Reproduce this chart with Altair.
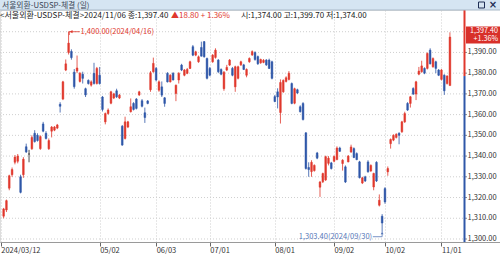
import altair as alt
import pandas as pd

# ---- data (trading-day index: 1 = 2024/03/13 ... 159 = 2024/11/06) ----
opens = [1311, 1314, 1324.5, 1331, 1337, 1337.5, 1330, 1331, 1344.5, 1341,
         1343.5, 1351, 1350, 1343.6, 1355.5, 1351, 1343.5, 1352, 1352.5, 1353.5,
         1365, 1367.5, 1381.5, 1390, 1390.5, 1380.5, 1381, 1376, 1379.5, 1372.5,
         1376.5, 1374.2, 1379.9, 1375, 1379, 1368.5, 1356.5, 1360.5, 1365.5, 1368,
         1371.5, 1368, 1354.4, 1348.5, 1354, 1361.4, 1365.4, 1367.5, 1369.5, 1366.7,
         1360.9, 1366.6, 1372, 1380.7, 1382.3, 1371.8, 1373.4, 1368.1, 1379.9, 1375.8,
         1379.9, 1370.2, 1376.7, 1383.9, 1379, 1379.9, 1382.3, 1392.8, 1388.7, 1385.5,
         1392.4, 1395.2, 1387.1, 1382.3, 1385.5, 1387.6, 1386.3, 1381.8, 1372.5, 1381.5,
         1383.9, 1382.3, 1373.4, 1377.5, 1384, 1384, 1379, 1385.5, 1388.8, 1390,
         1388, 1385, 1385.2, 1386.3, 1386.3, 1385.5, 1368.7, 1371, 1361, 1371,
         1376, 1377, 1375, 1365.5, 1372, 1363.8, 1365.4, 1351.2, 1334.5, 1332.5,
         1333, 1341.5, 1325, 1327.6, 1328.5, 1336.5, 1336.7, 1337.5, 1338.3, 1343.9,
         1336.4, 1334.8, 1337.2, 1342, 1343.6, 1341.2, 1337.2, 1327, 1330, 1337.2,
         1332.8, 1325.1, 1337, 1316.3, 1311, 1324.3, 1332.4, 1346, 1347.7, 1349,
         1351, 1351.7, 1356.5, 1365.4, 1365.4, 1372.6, 1369.9, 1379.5, 1380.7, 1382.3,
         1382.3, 1391.1, 1383.1, 1385.5, 1381.5, 1377, 1379, 1375, 1374]
highs = [1315, 1319, 1331, 1334.5, 1340.5, 1341, 1331, 1339.5, 1346, 1343,
         1350, 1352.5, 1351, 1350, 1356.5, 1352, 1348.5, 1354.5, 1354.5, 1355.5,
         1366, 1376.3, 1386.6, 1400, 1391.5, 1382, 1388.5, 1380.5, 1380.7, 1373,
         1377, 1376.5, 1385, 1383, 1383, 1369, 1361, 1363, 1371.5, 1370.5,
         1372.5, 1370, 1355, 1359, 1357, 1367.8, 1366, 1368, 1371.5, 1367.5,
         1363.4, 1367, 1381, 1387.5, 1383, 1376.5, 1376, 1368.5, 1380.5, 1379.5,
         1380.5, 1374.5, 1380.5, 1384.5, 1382, 1382.5, 1386, 1393.6, 1390.8, 1388.5,
         1395.2, 1395.5, 1387.5, 1383, 1389.2, 1392, 1386.8, 1382.3, 1381, 1384,
         1386.8, 1383, 1383.6, 1383.6, 1386, 1384.5, 1382.3, 1387.6, 1391, 1390.5,
         1388.5, 1387, 1386.8, 1386.8, 1387, 1386, 1369.5, 1372.7, 1377, 1377,
         1378.5, 1381, 1375.5, 1373, 1372.5, 1364.5, 1366, 1351.5, 1337, 1338,
         1336, 1342, 1328, 1332, 1340.2, 1340, 1337.2, 1340.3, 1344.7, 1344.5,
         1338.5, 1335.5, 1340.5, 1345.5, 1344.2, 1341.8, 1337.7, 1330, 1330.5, 1338,
         1336, 1332, 1337.5, 1321.5, 1312, 1325, 1335, 1348.5, 1350.5, 1351,
         1351.5, 1357, 1361.4, 1366, 1369, 1373.2, 1376.3, 1383, 1386, 1382.8,
         1390, 1392, 1387.6, 1386, 1382, 1382, 1379.5, 1379, 1399.7]
lows = [1310, 1313, 1323.5, 1330, 1336, 1336.5, 1322, 1329.5, 1341.5, 1337,
        1343, 1346.5, 1347, 1343, 1351.5, 1348, 1343, 1349, 1352, 1353,
        1361, 1367, 1381, 1389, 1386.5, 1372.5, 1380, 1375.5, 1375, 1368.5,
        1374.5, 1373.5, 1374.5, 1374.5, 1374.5, 1361.5, 1355.3, 1360, 1365, 1367.5,
        1368, 1367.5, 1345, 1348, 1353.5, 1361, 1362, 1362.5, 1369, 1363.5,
        1356, 1365, 1371, 1380.2, 1376, 1371, 1368.5, 1363.8, 1375.5, 1375.5,
        1376.5, 1366.5, 1375, 1381, 1378.5, 1379.5, 1382, 1388.2, 1388.2, 1385,
        1388, 1387.5, 1377, 1378.5, 1385, 1387, 1380, 1379, 1371.5, 1381,
        1383.5, 1378.5, 1371, 1377, 1383.5, 1381.5, 1378, 1385, 1388.3, 1386,
        1384, 1384.5, 1384.8, 1383.5, 1382, 1377, 1366, 1363, 1355.7, 1370.5,
        1375.5, 1376.5, 1365, 1365, 1370, 1361, 1357.2, 1333.5, 1330, 1330,
        1332.5, 1338.5, 1320.3, 1327, 1328, 1335.5, 1333.5, 1337, 1338, 1342,
        1333, 1327, 1337, 1341.5, 1339, 1338, 1329.2, 1326.5, 1327.5, 1332,
        1332.4, 1323.5, 1327.5, 1315.7, 1303.4, 1317, 1330.5, 1343.6, 1347.2, 1348.5,
        1345.7, 1351.2, 1356, 1361.8, 1363.4, 1369.5, 1367, 1379, 1380.2, 1379.5,
        1381.8, 1384.2, 1382.6, 1380, 1378.6, 1376.5, 1369.5, 1374.5, 1374]
closes = [1314.5, 1318.5, 1330.5, 1333.5, 1339.5, 1340, 1322.5, 1338.5, 1342, 1341,
          1349, 1347, 1347.5, 1349.4, 1352, 1348.5, 1347.5, 1354, 1354, 1355,
          1364, 1375.8, 1384.5, 1394.5, 1387.5, 1373.5, 1382.5, 1380, 1377.5, 1369.5,
          1375, 1375.8, 1375, 1382.3, 1375, 1362.5, 1360.5, 1362.2, 1371, 1370,
          1368.6, 1369.4, 1345.3, 1356.5, 1356.5, 1363.8, 1362.5, 1363, 1371, 1364,
          1358.6, 1365.4, 1380.2, 1384.7, 1376.7, 1375.8, 1369.4, 1365.4, 1375.8, 1379,
          1376.7, 1374.2, 1379.9, 1381.5, 1381.5, 1381.8, 1385.5, 1388.7, 1390.3, 1387.9,
          1388.2, 1387.9, 1377.5, 1379, 1388.7, 1391.1, 1380.7, 1379.5, 1380.5, 1382.8,
          1386.3, 1379, 1383.1, 1383.1, 1385.5, 1381.8, 1381.8, 1387.1, 1390.4, 1386.6,
          1384.5, 1386.6, 1386.2, 1384, 1382.3, 1377.5, 1366.3, 1368.5, 1375.5, 1376.5,
          1377.8, 1380, 1365.4, 1372.5, 1370.4, 1361.4, 1357.6, 1334, 1333.5, 1337,
          1335.5, 1339, 1327.5, 1331.6, 1339.7, 1339, 1334, 1339.8, 1343.9, 1342.3,
          1338, 1327.5, 1340, 1344.4, 1339.3, 1338.3, 1329.6, 1329.5, 1328, 1332.4,
          1335.5, 1331.6, 1328, 1318.7, 1307.7, 1317.9, 1334, 1348, 1350, 1350.5,
          1350, 1356.5, 1360.5, 1362.2, 1368.6, 1369.9, 1375.8, 1381, 1383.5, 1380,
          1389.5, 1384.5, 1387.1, 1382.3, 1379, 1381.5, 1371.5, 1378.6, 1397.4]
idx = list(range(1, len(closes) + 1))

tick_idx = [0, 35, 55, 74, 97, 118, 136, 156]
tick_lbl = ["2024/03/12", "05/02", "06/03", "07/01", "08/01", "09/02", "10/02", "11/01"]
y_ticks = [1300, 1310, 1320, 1330, 1340, 1350, 1360, 1370, 1380, 1390]
y_grid = [1300, 1310, 1320, 1330, 1340, 1350, 1360, 1370, 1380, 1390, 1400]

prev_close = 1378.6
last_close_txt = "1,397.40"
last_pct_txt = "+1.36%"
hi_idx, hi_val, hi_txt = 24, 1400.0, "1,400.00(2024/04/16)"
lo_idx, lo_val, lo_txt = 135, 1303.4, "1,303.40(2024/09/30)"

title_txt = "서울외환-USDSP-체결 (일)"
info_a = "<서울외환-USDSP-체결>2024/11/06 종:1,397.40"
info_b = "▲18.80 + 1.36%"
info_c = "시:1,374.00 고:1,399.70 저:1,374.00"

# ---- styling ----
UP = "#e0382d"
DOWN = "#2f57a8"
FLAT = "#222222"
GRID = "#cfcfcf"
TXT = "#333333"
FONT = "Noto Sans CJK KR"
W, H = 464, 232

df = pd.DataFrame({"i": idx, "o": opens, "h": highs, "l": lows, "c": closes})
df["dir"] = ["up" if c > o else ("down" if c < o else "flat") for o, c in zip(opens, closes)]
ylab = pd.DataFrame({"v": y_ticks, "t": [f"{v:,.2f}" for v in y_ticks]})
ygrid = pd.DataFrame({"v": y_grid})

dir_scale = alt.Scale(domain=["up", "down", "flat"], range=[UP, DOWN, FLAT])
xs = alt.Scale(domain=[1.49, 162.21], nice=False, zero=False)
ys = alt.Scale(domain=[1298.55, 1410.47], nice=False, zero=False)

label_expr = " : ".join(f"datum.value == {v} ? '{l}'" for v, l in zip(tick_idx, tick_lbl)) + " : ''"

x_axis = alt.Axis(values=tick_idx, labelExpr=label_expr, grid=True, gridDash=[1, 2],
                  gridColor=GRID, tickSize=4, tickColor="#666", domainColor="#9a9a9a",
                  labelAlign="left", labelBaseline="top", labelPadding=0,
                  labelFontSize=7.5, labelColor=TXT, labelFont=FONT, labelFlush=False,
                  labelOverlap=False, title=None)

# horizontal grid + right-hand labels drawn through the y scale
grid_h = alt.Chart(ygrid).mark_rule(color=GRID, strokeWidth=1, strokeDash=[1, 2]).encode(
    x=alt.value(0), x2=alt.value(W),
    y=alt.Y("v:Q", scale=ys, axis=None))
y_tick_marks = alt.Chart(ylab).mark_rule(color="#888", strokeWidth=1).encode(
    x=alt.value(W + 1), x2=alt.value(W + 3), y="v:Q")
y_labels = alt.Chart(ylab).mark_text(align="left", baseline="middle", fontSize=7.5,
                                     font=FONT, color=TXT).encode(
    x=alt.value(W + 3.5), y="v:Q", text="t:N")

wicks = alt.Chart(df).mark_rule(strokeWidth=1, opacity=0.8, clip=True).encode(
    x=alt.X("i:Q", scale=xs, axis=x_axis),
    y=alt.Y("l:Q"),
    y2="h:Q",
    color=alt.Color("dir:N", scale=dir_scale, legend=None),
)
bodies = alt.Chart(df).mark_bar(size=1.7, strokeWidth=0.5, clip=True).encode(
    x="i:Q", y="o:Q", y2="c:Q",
    color=alt.Color("dir:N", scale=dir_scale, legend=None),
    stroke=alt.Stroke("dir:N", scale=dir_scale, legend=None),
)

one = pd.DataFrame({"a": [0]})

# right border line coloured by previous close
edge_up = alt.Chart(one).mark_rule(color=UP, strokeWidth=2).encode(
    x=alt.value(W + 0.5), y=alt.datum(prev_close), y2=alt.value(0))
edge_dn = alt.Chart(one).mark_rule(color=DOWN, strokeWidth=2).encode(
    x=alt.value(W + 0.5), y=alt.datum(prev_close), y2=alt.value(H))
base_ext = alt.Chart(one).mark_rule(color="#9a9a9a", strokeWidth=1).encode(
    x=alt.value(W), x2=alt.value(W + 36), y=alt.value(H + 0.5))

# high annotation
hi_line = alt.Chart(one).mark_rule(color=UP, strokeWidth=0.8).encode(
    x=alt.datum(hi_idx), x2=alt.datum(hi_idx + 4.0), y=alt.datum(hi_val))
hi_tick = alt.Chart(one).mark_rule(color=UP, strokeWidth=0.8).encode(
    x=alt.datum(hi_idx + 0.25), y=alt.datum(hi_val), y2=alt.datum(hi_val - 1.6))
hi_arrow = alt.Chart(one).mark_point(shape="triangle-left", filled=True, size=10, color=UP, opacity=1).encode(
    x=alt.datum(hi_idx + 0.9), y=alt.datum(hi_val))
hi_text = alt.Chart(one).mark_text(text=hi_txt, align="left", baseline="middle", dx=12,
                                   fontSize=7.5, font=FONT, color=UP).encode(
    x=alt.datum(hi_idx), y=alt.datum(hi_val))

# low annotation
lo_y = lo_val - 2.3
LOC = "#5677b8"
lo_line = alt.Chart(one).mark_rule(color=LOC, strokeWidth=0.8).encode(
    x=alt.datum(lo_idx - 3.3), x2=alt.datum(lo_idx), y=alt.datum(lo_y))
lo_tick = alt.Chart(one).mark_rule(color=LOC, strokeWidth=0.8).encode(
    x=alt.datum(lo_idx), y=alt.datum(lo_y), y2=alt.datum(lo_val - 0.2))
lo_arrow = alt.Chart(one).mark_point(shape="triangle-up", filled=True, size=8, color=LOC, opacity=1).encode(
    x=alt.datum(lo_idx), y=alt.datum(lo_val - 0.5))
lo_text = alt.Chart(one).mark_text(text=lo_txt, align="right", baseline="middle", dx=-10,
                                   fontSize=7.5, font=FONT, color=LOC).encode(
    x=alt.datum(lo_idx), y=alt.datum(lo_y))

# last price box
box = alt.Chart(one).mark_rect(color="#d8302a").encode(
    x=alt.value(W + 2), x2=alt.value(W + 36), y=alt.value(16.5), y2=alt.value(33.5))
box_t1 = alt.Chart(one).mark_text(text=last_close_txt, align="right", baseline="middle",
                                  fontSize=7.2, font=FONT, color="white").encode(
    x=alt.value(W + 34), y=alt.value(20.6))
box_t2 = alt.Chart(one).mark_text(text=last_pct_txt, align="right", baseline="middle",
                                  fontSize=7.2, font=FONT, color="white").encode(
    x=alt.value(W + 34), y=alt.value(29.4))

# window title bar + info line
bar = alt.Chart(one).mark_rect(color="#d5e5f2").encode(
    x=alt.value(0), x2=alt.value(W + 36), y=alt.value(-10), y2=alt.value(0))
bar_line = alt.Chart(one).mark_rule(color="#a9b9c8", strokeWidth=1).encode(
    x=alt.value(0), x2=alt.value(W + 36), y=alt.value(0))
bar_txt = alt.Chart(one).mark_text(text=title_txt, align="left", baseline="middle",
                                   fontSize=7.8, font=FONT, color="#3b4656").encode(
    x=alt.value(2), y=alt.value(-4.3))
icon_box = alt.Chart(one).mark_rect(filled=False, stroke="#1f2f55", strokeWidth=1).encode(
    x=alt.value(478.5), x2=alt.value(484.5), y=alt.value(-8), y2=alt.value(-2))
icon_x = alt.Chart(one).mark_text(text="×", align="center", baseline="middle",
                                  fontSize=10, font="DejaVu Sans", fontWeight="bold",
                                  color="#1f2f55").encode(x=alt.value(493), y=alt.value(-5))
info1 = alt.Chart(one).mark_text(text=info_a, align="left", baseline="middle",
                                 fontSize=8, font=FONT, color="#222").encode(
    x=alt.value(0), y=alt.value(5.5))
info2 = alt.Chart(one).mark_text(text=info_b, align="left", baseline="middle",
                                 fontSize=8, font=FONT, color=UP).encode(
    x=alt.value(171), y=alt.value(5.5))
info3 = alt.Chart(one).mark_text(text=info_c, align="left", baseline="middle",
                                 fontSize=8, font=FONT, color="#222").encode(
    x=alt.value(241), y=alt.value(5.5))

chart = alt.layer(
    grid_h, wicks, bodies, y_tick_marks, y_labels, edge_up, edge_dn, base_ext,
    hi_line, hi_tick, hi_arrow, hi_text,
    lo_line, lo_tick, lo_arrow, lo_text,
    box, box_t1, box_t2,
    bar, bar_line, bar_txt, icon_box, icon_x,
    info1, info2, info3,
).properties(
    width=W, height=H,
    padding={"left": 0, "top": 10, "right": 36, "bottom": 12},
    autosize=alt.AutoSizeParams(type="none"),
).configure_view(stroke=None).configure(background="white")

chart.save("out.html", embed_options={"renderer": "svg", "actions": False})
